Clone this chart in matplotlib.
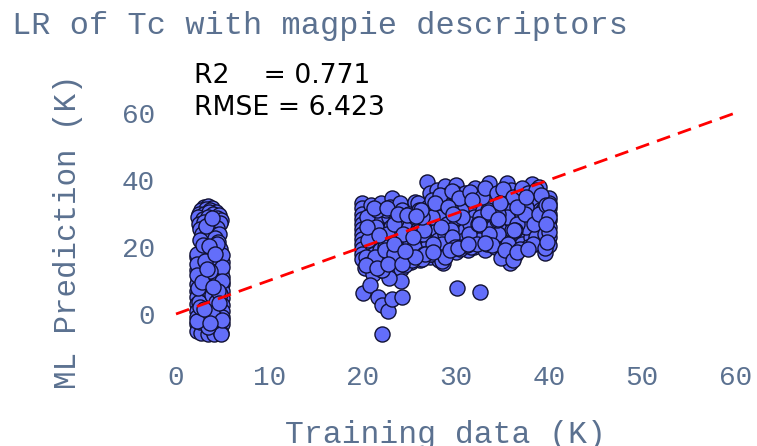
from matplotlib import pyplot as plt

# low Tc group
low_x = [3.0,3.4,3.9,2.7,3.2,3.7,4.3,2.5,3.0,3.5,4.0,4.6,
         2.4,2.9,3.4,3.9,4.4,4.8,2.5,3.0,3.6,4.1,4.7,2.6,
         3.2,3.8,4.4,2.8,3.4,4.0,4.6,3.0,3.6,4.2,2.6,4.5,
         4.7,4.2,3.7,3.1,2.6,2.3,2.8,3.4,4.0,4.6,4.9,4.4,
         3.8,3.1,2.5,2.3,2.9,3.5,4.1,4.8,4.9,4.3,3.6,3.0,
         2.4,2.3,2.8,3.5,4.2,4.9,4.9,4.2,3.4,2.7,2.3,2.3,
         3.0,3.8,4.5,4.9,4.9,4.1,3.3,2.6,2.3,2.3,2.9,3.6,
         4.4,4.9,4.9,4.2,3.5,2.8,2.3,2.3,3.1,3.9,4.7,4.9,
         4.4,3.7,3.0,2.4,2.3,2.7,3.4,4.1,4.8,4.8,4.0,3.2,
         2.5,2.6,3.3,3.9,4.5,3.0,3.7,4.3,2.4,3.4,4.7,3.9,
         2.3,4.9,2.3,4.9,2.3,4.9,2.3,4.9,3.2,3.9,2.9,4.4,
         3.5,3.1,4.2,3.7,2.8,4.5,3.3,4.0,2.6,4.6,3.6,3.0]
low_y = [32,32.2,31.5,31,31.2,31,30.5,30,30,30.3,29.8,29.5,
         29,28.5,29,28.4,28.7,28,27,27.5,27.2,26.8,27.2,25.5,
         25.8,25.3,25.6,24,24.2,23.8,24,22.5,22.3,22.6,22,21.5,
         19.5,19,18.8,19.6,18.5,17,16.8,16.5,16.4,16.9,15.5,14.6,
         14.2,14.6,14.5,13,12.6,12.2,12.4,12.8,11,10.6,10.2,10.5,
         10.6,9,8.6,8.4,8.6,8.9,6.8,6.5,6.2,6.6,7,5,
         4.6,4.4,4.6,4.8,2.8,2.6,2.3,2.7,3,1,0.6,0.4,
         0.7,1,-1,-1.3,-1.6,-1.2,-1,-3,-3.3,-3.2,-3,-3,
         -4.6,-4.4,-4.8,-4.6,-5,-5.6,-6,-6,-5.8,-6,5.8,1.3,
         3.6,-2.4,7.4,5.8,9.7,11.8,-0.5,3.5,7.8,-4,6,0.2,
         17.8,17.6,15,14,11.5,9.8,-2,-1.8,26.3,28.7,20.6,20.8,
         20.3,15.7,17.8,12.8,9.6,6.8,13.5,8.1,2,3.2,-2.6,1.5]

# high Tc group
high_x = [20.0,20.0,20.0,20.0,20.0,20.0,20.0,20.0,20.0,20.0,20.0,20.0,20.3,
          20.9,21.0,21.1,20.9,21.0,21.2,20.9,21.1,
          22.0,22.1,21.9,22.0,22.2,21.9,22.1,22.1,
          23.2,23.0,22.9,23.1,23.0,22.8,23.1,22.9,
          24.0,24.2,23.9,24.1,24.0,24.1,23.9,24.1,
          25.6,25.0,25.2,24.9,25.1,25.0,25.2,
          26.0,26.1,25.9,26.2,26.0,26.1,26.2,
          26.9,27.2,27.0,26.8,27.1,27.0,26.9,27.2,
          28.0,28.1,27.9,28.2,28.0,28.1,27.9,28.2,
          28.9,29.1,29.0,28.8,29.1,28.9,29.2,28.9,28.7,
          30.0,29.9,30.1,30.0,30.2,29.9,30.1,30.0,
          31.0,31.1,30.9,31.1,31.0,30.9,31.3,
          32.1,31.9,32.1,32.0,31.9,32.2,32.0,
          33.0,33.1,32.9,33.1,33.0,33.2,33.2,
          33.6,34.1,33.9,34.1,34.0,33.9,34.2,
          35.0,34.9,35.1,35.0,35.2,34.9,35.1,
          35.5,35.9,36.0,36.1,35.9,36.0,35.8,
          37.0,36.9,37.1,37.0,36.9,37.1,36.4,
          38.2,37.9,38.1,38.0,37.9,38.1,37.8,
          39.0,38.9,39.1,39.0,39.1,38.9,39.6,
          40.0,40.0,40.0,40.0,40.0,40.0,40.0,40.0,
          20.1,20.8,21.7,22.1,22.7,23.2,24.2,24.1,22.9,22.1,
          22.1,30.1,32.6,
          20.5,21.5,22.5,23.5,24.5,25.5,26.5,27.5,28.5,29.5,30.5,31.5,32.5,33.5,34.5,35.5,36.5,37.5,38.5,39.5,
          20.6,21.6,22.6,23.6,24.6,25.6,26.6,27.6,28.6,29.6,30.6,31.6,32.6,33.6,34.6,35.6,36.6,37.6,38.6,39.4,
          20.4,21.4,22.4,23.4,24.4,25.4,26.4,27.4,28.4,29.4,30.4,31.4,32.4,33.4,34.4,35.4,36.4,37.4,38.4,39.6,
          27.5,28.3,29.6,30.4,31.5,32.8,33.2,34.4,35.1,36.2,37.1,37.8,38.6,39.2,
          26.3,27.8,29.2,30.7,31.8,33.5,34.8,36.6,37.5,38.9,39.7,
          26.6,28.4,29.9,31.2,32.3,33.9,35.4,36.9,38.3,
          26.4,27.4,28.5,28.9,29.4,30.3,34.9,35.3,36.2,36.6,
          20.7,21.3,22.4,23.4,24.6,25.3,26.7,27.6,
          20.4,21.6,22.8,24.3,25.6,
          31.3,33.2,37.8,39.6,
          21.2,22.6,23.8,24.8,25.8,20.5,21.8,23.4,24.6,
          40.0,40.0,40.0,39.7,39.8,29.7,32.5,34.6,36.3]
high_y = [33,31.5,30,28.5,27,25.5,24,22.5,21,19.5,18,16.5,13.7,
          32.5,30,27,24.5,21,18,15.5,12,
          33,30.5,28,25,22,19,16,13,
          34.6,32,29,26,23,20,17,14,
          33,31,28,25,22,19,16,13.5,
          33.4,30,27,24,21,18,15.5,
          33,31,28,25,22,19,16,
          39.4,36,32,29.5,26,23,20,17,
          37,34,31,28,25,22,19,16,
          38.2,35.5,33,30,27,24,21,18,15.2,
          38.5,36,33,30.5,27.5,24.5,21.5,18.5,
          36,33.5,31,28,25,22,19,
          37.6,35,32,29,26,23,20,
          36,33.5,31,28,25,22,19,
          39.1,35,32,29,26,23,20,
          36,33.5,31,28,25,22,19.5,
          39,37,34,31,28,25,15.2,
          36.5,33,30,27,24,21,17.5,
          38.8,35,32,29,26,23,20,
          38,34,31,28,25,22,18.2,
          34.6,33,31.5,30,28,26,23,20.6,
          6.2,8.7,5,2.7,1,4.4,5,9.9,10.7,13,
          -6,7.8,6.5,
          29,26,31,23,27,20,24,29,21,25,19.5,27,22,31,24,29,19,26,21,30,
          22,31,24,28,17,29,25,21,33,23,31,20,29,24,30,21,27,32,23,31,
          17,15,20,27,24,23,29,18,26,32,20,24,27,21,28,18,25,30,27,24,
          34,35.5,36.8,34.5,36.5,35,37.5,36,37.4,34.8,37.6,36.2,37,35.5,
          31,33,32,29,34,30.5,33,32,35,30,32.5,
          18,17,20,20.5,21,20.6,17.5,19.5,21,
          16.5,18,15.8,17,19,19.8,16.8,19,16,18.5,
          15,17,19,18,14.5,16,18,18.5,
          14.5,13.6,15,15,17,
          20.8,21.2,19.3,19.8,
          31.5,31.5,30,29.5,29.2,26,23.7,20.8,18.8,
          32.5,29,24.5,27,21.5,30,27,28.5,25]

line_x = [0, 60]
line_y = [0, 60]

x_ticks = [0, 10, 20, 30, 40, 50, 60]
y_ticks = [0, 20, 40, 60]

font = ['Liberation Mono', 'DejaVu Sans Mono']
grey = '#5b7190'

fig = plt.figure(figsize=(7.57, 4.46), dpi=100)
ax = fig.add_axes([165 / 757, 1 - 355 / 446, (745 - 165) / 757, (355 - 60) / 446])
ax.set_xlim((165 - 176) / 9.32, (745 - 176) / 9.32)
ax.set_ylim((314 - 355) / 3.35, (314 - 60) / 3.35)

ax.scatter(low_x, low_y, s=118, c='#636EFA', edgecolors='#111133', linewidths=1.0, zorder=2)
ax.scatter(high_x, high_y, s=118, c='#636EFA', edgecolors='#111133', linewidths=1.0, zorder=2)
ax.plot(line_x, line_y, color='red', ls=(0, (5, 3)), lw=2, zorder=3)

for s in ax.spines.values():
    s.set_visible(False)
ax.set_xticks(x_ticks)
ax.set_yticks(y_ticks)
ax.tick_params(length=0, labelsize=20, labelcolor=grey, pad=7)
for t in ax.get_xticklabels() + ax.get_yticklabels():
    t.set_family(font)

fig.text(12 / 757, 1 - 26 / 446, 'LR of Tc with magpie descriptors', family=font,
         fontsize=23, color=grey, va='center')
fig.text(445 / 757, 1 - 435 / 446, 'Training data (K)', family=font,
         fontsize=22.6, color=grey, ha='center', va='center')
fig.text(68 / 757, 1 - 232 / 446, 'ML Prediction (K)', family=font,
         fontsize=22.2, color=grey, ha='center', va='center', rotation=90)
fig.text(194 / 757, 1 - 76 / 446, 'R2    = 0.771', fontsize=19.2, color='black', va='center')
fig.text(194 / 757, 1 - 108 / 446, 'RMSE = 6.423', fontsize=19.2, color='black', va='center')

fig.savefig('out.png', dpi=100)
